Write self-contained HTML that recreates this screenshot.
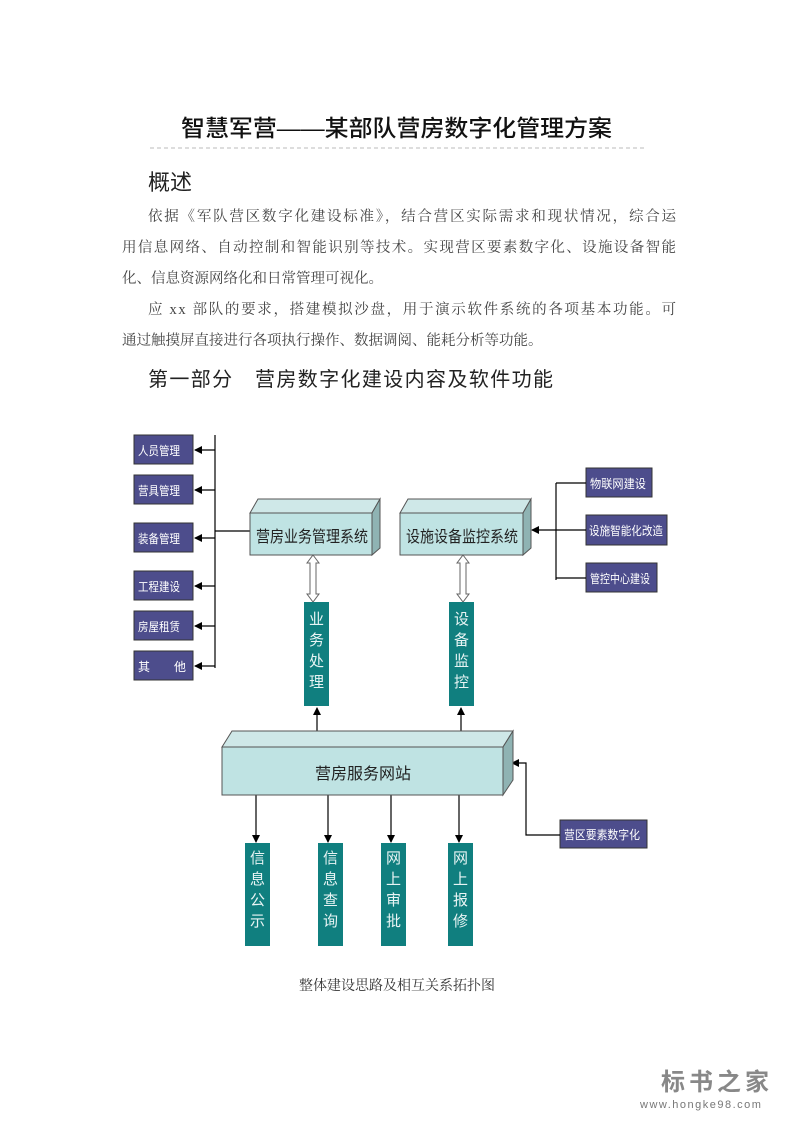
<!DOCTYPE html>
<html><head><meta charset="utf-8"><style>
html,body{margin:0;padding:0;background:#fff}
svg{display:block}
.s{font-family:"Liberation Sans","Noto Sans CJK SC",sans-serif}
.r{font-family:"Liberation Serif","Noto Serif CJK SC",serif}
</style></head><body>
<svg width="793" height="1122" viewBox="0 0 793 1122" xmlns="http://www.w3.org/2000/svg">
<defs>
<marker id="a" markerWidth="8" markerHeight="8" refX="7" refY="4" orient="auto" markerUnits="userSpaceOnUse"><path d="M0,0 L8,4 L0,8 z" fill="#000"/></marker>
</defs>
<text x="181" y="136" class="s" font-size="23" font-weight="500" fill="#111" textLength="431" lengthAdjust="spacingAndGlyphs">智慧军营——某部队营房数字化管理方案</text>
<line x1="150" y1="148" x2="645" y2="148" stroke="#bbb" stroke-dasharray="4,3"/>
<text x="148" y="190" class="s" font-size="22" fill="#222">概述</text>
<g class="r" font-size="14.5" fill="#444">
<text x="148" y="221" textLength="528" lengthAdjust="spacing">依据《军队营区数字化建设标准》，结合营区实际需求和现状情况，综合运</text>
<text x="122" y="252" textLength="554" lengthAdjust="spacing">用信息网络、自动控制和智能识别等技术。实现营区要素数字化、设施设备智能</text>
<text x="122" y="283">化、信息资源网络化和日常管理可视化。</text>
<text x="148" y="314" textLength="528" lengthAdjust="spacing">应 xx 部队的要求，搭建模拟沙盘，用于演示软件系统的各项基本功能。可</text>
<text x="122" y="345">通过触摸屏直接进行各项执行操作、数据调阅、能耗分析等功能。</text>
</g>
<text x="148" y="386" class="s" font-size="20" fill="#222" textLength="405" lengthAdjust="spacing">第一部分　营房数字化建设内容及软件功能</text>

<g class="s" font-size="12" fill="#fff">
<g fill="#4d4d8c" stroke="#333" stroke-width="1">
<rect x="134" y="435" width="59" height="29"/><rect x="134" y="475" width="59" height="29"/>
<rect x="134" y="523" width="59" height="29"/><rect x="134" y="571" width="59" height="29"/>
<rect x="134" y="611" width="59" height="29"/><rect x="134" y="651" width="59" height="29"/>
<rect x="586" y="468" width="66" height="29"/><rect x="586" y="515" width="81" height="30"/>
<rect x="586" y="563" width="71" height="29"/><rect x="560" y="820" width="87" height="28"/>
</g>
<text x="138" y="455" textLength="42" lengthAdjust="spacingAndGlyphs">人员管理</text><text x="138" y="495" textLength="42" lengthAdjust="spacingAndGlyphs">营具管理</text>
<text x="138" y="543" textLength="42" lengthAdjust="spacingAndGlyphs">装备管理</text><text x="138" y="591" textLength="42" lengthAdjust="spacingAndGlyphs">工程建设</text>
<text x="138" y="631" textLength="42" lengthAdjust="spacingAndGlyphs">房屋租赁</text><text x="138" y="671">其　　他</text>
<text x="590" y="488" textLength="56" lengthAdjust="spacingAndGlyphs">物联网建设</text>
<text x="589" y="535" textLength="74" lengthAdjust="spacingAndGlyphs">设施智能化改造</text>
<text x="590" y="583" textLength="60" lengthAdjust="spacingAndGlyphs">管控中心建设</text>
<text x="564" y="839" textLength="76" lengthAdjust="spacingAndGlyphs">营区要素数字化</text>
</g>
<g stroke="#000" stroke-width="1.2" fill="none">
<line x1="215" y1="435" x2="215" y2="668"/>
<line x1="215" y1="450" x2="195" y2="450" marker-end="url(#a)"/>
<line x1="215" y1="490" x2="195" y2="490" marker-end="url(#a)"/>
<line x1="215" y1="538" x2="195" y2="538" marker-end="url(#a)"/>
<line x1="215" y1="586" x2="195" y2="586" marker-end="url(#a)"/>
<line x1="215" y1="626" x2="195" y2="626" marker-end="url(#a)"/>
<line x1="215" y1="666" x2="195" y2="666" marker-end="url(#a)"/>
<line x1="215" y1="531" x2="250" y2="531"/>
<line x1="556" y1="483" x2="556" y2="580"/>
<line x1="586" y1="483" x2="556" y2="483"/>
<line x1="586" y1="530" x2="556" y2="530"/>
<line x1="586" y1="578" x2="556" y2="578"/>
<line x1="556" y1="530" x2="532" y2="530" marker-end="url(#a)"/>
<polyline points="560,835 526,835 526,763 512,763" marker-end="url(#a)"/>
<line x1="317" y1="733" x2="317" y2="708" marker-end="url(#a)"/>
<line x1="461" y1="733" x2="461" y2="708" marker-end="url(#a)"/>
<line x1="256" y1="795" x2="256" y2="842" marker-end="url(#a)"/>
<line x1="328" y1="795" x2="328" y2="842" marker-end="url(#a)"/>
<line x1="391" y1="795" x2="391" y2="842" marker-end="url(#a)"/>
<line x1="459" y1="795" x2="459" y2="842" marker-end="url(#a)"/>
</g>
<g stroke="#555" stroke-width="1">
<polygon points="250,513 258,499 380,499 372,513" fill="#cfe8e8"/>
<polygon points="372,513 380,499 380,548 372,555" fill="#8fb3b3"/>
<rect x="250" y="513" width="122" height="42" fill="#bfe3e3"/>
<polygon points="400,513 408,499 531,499 523,513" fill="#cfe8e8"/>
<polygon points="523,513 531,499 531,548 523,555" fill="#8fb3b3"/>
<rect x="400" y="513" width="123" height="42" fill="#bfe3e3"/>
<polygon points="222,747 232,731 513,731 503,747" fill="#cfe8e8"/>
<polygon points="503,747 513,731 513,780 503,795" fill="#8fb3b3"/>
<rect x="222" y="747" width="281" height="48" fill="#bfe3e3"/>
</g>
<g class="s" fill="#222">
<text x="256" y="542" font-size="16" textLength="112" lengthAdjust="spacingAndGlyphs">营房业务管理系统</text>
<text x="406" y="542" font-size="16" textLength="112" lengthAdjust="spacingAndGlyphs">设施设备监控系统</text>
<text x="315" y="779" font-size="16">营房服务网站</text>
</g>
<g fill="#fff" stroke="#666" stroke-width="1">
<path d="M313,555 L319,563 L316,563 L316,594 L319,594 L313,602 L307,594 L310,594 L310,563 L307,563 Z"/>
<path d="M463,555 L469,563 L466,563 L466,594 L469,594 L463,602 L457,594 L460,594 L460,563 L457,563 Z"/>
</g>
<g fill="#107f7f">
<rect x="304" y="602" width="25" height="104"/><rect x="449" y="602" width="25" height="104"/>
<rect x="245" y="843" width="25" height="103"/><rect x="318" y="843" width="25" height="103"/>
<rect x="381" y="843" width="25" height="103"/><rect x="448" y="843" width="25" height="103"/>
</g>
<g class="s" font-size="15" fill="#e8f4f4" text-anchor="middle">
<text x="316.5" y="624">业</text><text x="316.5" y="645">务</text><text x="316.5" y="666">处</text><text x="316.5" y="687">理</text>
<text x="461.5" y="624">设</text><text x="461.5" y="645">备</text><text x="461.5" y="666">监</text><text x="461.5" y="687">控</text>
<text x="257.5" y="863">信</text><text x="257.5" y="884">息</text><text x="257.5" y="905">公</text><text x="257.5" y="926">示</text>
<text x="330.5" y="863">信</text><text x="330.5" y="884">息</text><text x="330.5" y="905">查</text><text x="330.5" y="926">询</text>
<text x="393.5" y="863">网</text><text x="393.5" y="884">上</text><text x="393.5" y="905">审</text><text x="393.5" y="926">批</text>
<text x="460.5" y="863">网</text><text x="460.5" y="884">上</text><text x="460.5" y="905">报</text><text x="460.5" y="926">修</text>
</g>
<text x="397" y="990" class="r" font-size="14" fill="#333" text-anchor="middle">整体建设思路及相互关系拓扑图</text>
<text x="661" y="1090" class="s" font-size="24" font-weight="bold" fill="#888" letter-spacing="4">标书之家</text>
<text x="640" y="1108" class="s" font-size="11" fill="#777" letter-spacing="1.5">www.hongke98.com</text>
</svg>
</body></html>
